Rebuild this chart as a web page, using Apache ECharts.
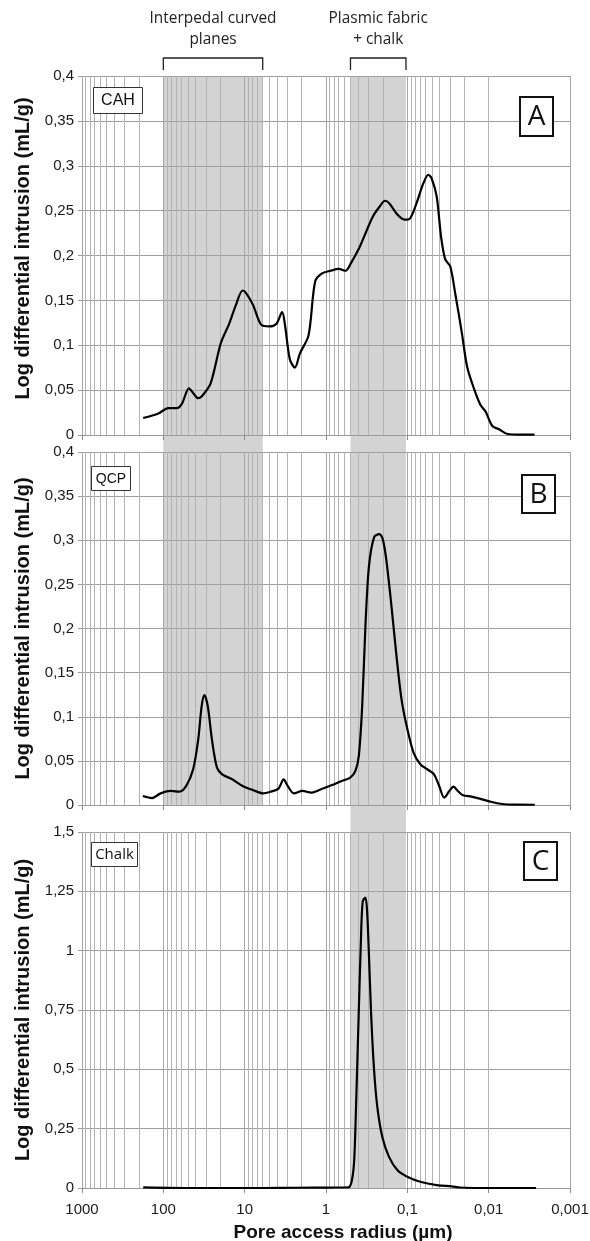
<!DOCTYPE html>
<html><head><meta charset="utf-8">
<script src="https://cdn.jsdelivr.net/npm/echarts/dist/echarts.min.js"></script>
<style>html,body{margin:0;padding:0;background:#fff}#c{width:590px;height:1241px}</style>
</head><body><div id="c"></div><script>
// ---------- DATA ----------
const xTickLabels = ['1000','100','10','1','0,1','0,01','0,001'];
const yTickLabelsAB = ['0','0,05','0,1','0,15','0,2','0,25','0,3','0,35','0,4'];
const yTickLabelsC = ['0','0,25','0,5','0,75','1','1,25','1,5'];

const cahRadius = [177,115,86.7,68,59,48.4,42.4,37.4,33.4,26.2,19.7,15.5,12.8,10.6,9.6,7.9,6.27,4.93,4.07,3.46,3.21,2.78,2.41,2.09,1.64,1.36,1.12,0.88,0.695,0.574,0.497,0.392,0.34,0.267,0.221,0.188,0.166,0.131,0.108,0.0935,0.0773,0.0638,0.0553,0.0503,0.0436,0.0385,0.0343,0.0297,0.0258,0.0213,0.0184,0.0152,0.0126,0.0109,0.0090,0.00743,0.00586,0.00419,0.00273];
const cahValues = [0.019,0.024,0.030,0.030,0.035,0.052,0.046,0.041,0.0435,0.0576,0.102,0.124,0.145,0.161,0.158,0.145,0.123,0.121,0.124,0.137,0.124,0.084,0.075,0.091,0.111,0.171,0.180,0.183,0.185,0.183,0.191,0.208,0.221,0.243,0.254,0.261,0.258,0.245,0.240,0.241,0.258,0.280,0.290,0.286,0.266,0.221,0.196,0.188,0.158,0.113,0.076,0.052,0.0334,0.026,0.010,0.0063,0.0011,0.0005,0.0005];

const qcpRadius = [178.6,137.7,108,80.9,63.5,52.3,43.0,37.2,33.8,31.3,28.4,25.3,21.9,18.9,14.2,10.6,7.92,5.93,4.89,3.84,3.32,2.96,2.48,1.95,1.53,1.15,0.857,0.641,0.503,0.435,0.395,0.359,0.326,0.296,0.256,0.221,0.201,0.182,0.157,0.136,0.118,0.102,0.0839,0.0692,0.0570,0.047,0.0406,0.0352,0.0304,0.0271,0.0239,0.0207,0.0162,0.0121,0.00908,0.00679,0.00461,0.00271];
const qcpValues = [0.0102,0.0079,0.0132,0.0159,0.0151,0.0216,0.0405,0.0746,0.112,0.1245,0.112,0.0746,0.0424,0.0348,0.0291,0.0216,0.0170,0.0132,0.0148,0.0185,0.0291,0.0216,0.0132,0.0159,0.014,0.0178,0.0223,0.0272,0.031,0.0386,0.0556,0.112,0.207,0.271,0.3035,0.307,0.3016,0.279,0.226,0.169,0.12,0.0897,0.0594,0.0462,0.0405,0.0348,0.0216,0.0083,0.0159,0.0208,0.0159,0.011,0.0095,0.0064,0.0034,0.0011,0.0004,0.0003];

const chalkRadius = [176.7,41.2,6.08,2.33,0.895,0.529,0.481,0.450,0.425,0.397,0.372,0.354,0.328,0.313,0.298,0.279,0.258,0.234,0.203,0.168,0.132,0.099,0.0676,0.0419,0.0285,0.0224,0.0120,0.00261];
const chalkValues = [0.003,0,0,0.001,0.002,0.003,0.032,0.117,0.370,0.722,1.045,1.207,1.224,1.172,1.003,0.736,0.511,0.342,0.215,0.131,0.0746,0.0464,0.0253,0.0113,0.007,0.002,0,0];

const bandInterpedal = [100, 6];
const bandPlasmic = [0.5, 0.104];
const panelNames = ['CAH','QCP','Chalk'];
const panelLetters = ['A','B','C'];
const headerInterpedal = ['Interpedal curved','planes'];
const headerPlasmic = ['Plasmic fabric','+ chalk'];
const yTitle = 'Log differential intrusion (mL/g)';
const xTitle = 'Pore access radius (\u00b5m)';

// minor log gridlines (2..9 within each decade)
const minorGrid = [];
for (let k = -3; k <= 2; k++) for (let m = 2; m <= 9; m++) minorGrid.push(+(m * Math.pow(10, k)).toPrecision(3));

// ---------- LAYOUT ----------
const L = 82, W = 488;
const panels = [{top:76,height:359},{top:452,height:353},{top:832,height:356}];
const FONT = 'Liberation Sans, Arial, sans-serif';

const grids = panels.map(p => ({left:L, width:W, top:p.top, height:p.height, outerBoundsMode:'none', containLabel:false}));
grids.push({left:L, width:W, top:76, height:805-76, outerBoundsMode:'none', containLabel:false});
grids.push({left:L, width:W, top:76, height:1188-76, outerBoundsMode:'none', containLabel:false});

function xAx(gi, visible, labels) {
  return {
    type:'log', logBase:10, min:0.001, max:1000, inverse:true, gridIndex:gi, splitNumber:6, show:visible,
    axisLine:{show:true, lineStyle:{color:'#9a9a9a', width:1}},
    axisTick:{show:true, length:5, inside:false, lineStyle:{color:'#8a8a8a'}},
    axisLabel:{show:labels, fontFamily:FONT, fontSize:15, color:'#1a1a1a', margin:14, showMinLabel:true, showMaxLabel:true,
      formatter: v => xTickLabels[Math.round(3 - Math.log10(v))]},
    splitLine:{show:true, lineStyle:{color:'#a6a6a6', width:1}},
    name: labels ? xTitle : '', nameLocation:'middle', nameGap:35,
    nameTextStyle:{fontFamily:FONT, fontWeight:'bold', fontSize:19, color:'#111', padding:[0,0,0,34]}
  };
}
function yAx(gi, max, interval, labels, visible, shift) {
  return {
    type:'value', gridIndex:gi, min:0, max:max, interval:interval, show:visible,
    axisLine:{show:false}, axisTick:{show:true, length:4, lineStyle:{color:'#9a9a9a'}},
    axisLabel:{fontFamily:FONT, fontSize:15, color:'#1a1a1a', margin:8, showMinLabel:true, showMaxLabel:true,
      formatter: v => labels ? labels[Math.round(v / interval)] : ''},
    splitLine:{show:true, lineStyle:{color:'#9e9e9e', width:1}},
    name: visible ? yTitle : '', nameLocation:'middle', nameGap:48,
    nameTextStyle:{fontFamily:FONT, fontWeight:'bold', fontSize:20, color:'#111', padding:[0,0,0,shift||0]}
  };
}

const minorMarkLine = {
  silent:true, z:1, animation:false, symbol:['none','none'], label:{show:false},
  lineStyle:{color:'#b3b3b3', width:1, type:'solid'}, emphasis:{disabled:true},
  data: minorGrid.map(v => ({xAxis:v}))
};

function curve(gi, xs, ys) {
  return {
    type:'line', xAxisIndex:gi, yAxisIndex:gi, smooth:0.3, showSymbol:false, silent:true, animation:false, z:3,
    lineStyle:{color:'#000', width:2.2}, data: xs.map((x,i) => [x, ys[i]]),
    markLine: minorMarkLine
  };
}
function band(gi, range) {
  return {
    type:'line', xAxisIndex:gi, yAxisIndex:gi, data:[], silent:true, animation:false,
    markArea:{silent:true, z:-1, animation:false, itemStyle:{color:'#d3d3d3', borderWidth:0}, label:{show:false},
      data:[[{xAxis:range[0], yAxis:0},{xAxis:range[1], yAxis:1}]]}
  };
}

const option = {
  backgroundColor:'#fff',
  animation:false,
  grid: grids,
  xAxis: [xAx(0,true,false), xAx(1,true,false), xAx(2,true,true), xAx(3,false,false), xAx(4,false,false)],
  yAxis: [yAx(0,0.4,0.05,yTickLabelsAB,true,14), yAx(1,0.4,0.05,yTickLabelsAB,true,0), yAx(2,1.5,0.25,yTickLabelsC,true,0),
          yAx(3,1,1,null,false), yAx(4,1,1,null,false)],
  series: [
    band(3, bandInterpedal), band(4, bandPlasmic),
    curve(0, cahRadius, cahValues), curve(1, qcpRadius, qcpValues), curve(2, chalkRadius, chalkValues)
  ]
};

const chart = echarts.init(document.getElementById('c'), null, {renderer:'canvas'});
chart.setOption(option);

// ---------- ANNOTATIONS ----------
const px = v => chart.convertToPixel({xAxisIndex:0}, v);
const graphics = [];
function header(range, lines) {
  const x1 = px(range[0]), x2 = px(range[1]), cx = (x1 + x2) / 2;
  graphics.push({type:'polyline', silent:true, shape:{points:[[x1,70],[x1,58],[x2,58],[x2,70]]}, style:{stroke:'#222', lineWidth:1.3, fill:null}});
  lines.forEach((t,i) => graphics.push({type:'text', silent:true, x:cx, y:19 + i*21,
    style:{text:t, font:'15.4px "Open Sans", sans-serif', fill:'#222', align:'center', verticalAlign:'middle'}}));
}
header(bandInterpedal, headerInterpedal);
header(bandPlasmic, headerPlasmic);

const nameBoxes = [{x:93,y:87,w:49,h:26,fs:16,font:FONT},{x:91,y:466,w:39,h:24,fs:14,font:FONT},{x:91,y:842,w:46,h:24,fs:15,font:'"Open Sans", sans-serif'}];
const letterBoxes = [{x:520,y:97,w:33,h:39},{x:522,y:475,w:33,h:38},{x:524,y:842,w:33,h:38}];
panelNames.forEach((n,i) => {
  const b = nameBoxes[i];
  graphics.push({type:'rect', silent:true, shape:{x:b.x+0.5,y:b.y+0.5,width:b.w,height:b.h}, style:{fill:'#fff', stroke:'#333', lineWidth:1}, z:10});
  graphics.push({type:'text', silent:true, x:b.x+b.w/2+0.5, y:b.y+b.h/2+1, z:11,
    style:{text:n, font:b.fs+'px '+b.font, fill:'#111', align:'center', verticalAlign:'middle'}});
  const c = letterBoxes[i];
  graphics.push({type:'rect', silent:true, shape:{x:c.x,y:c.y,width:c.w,height:c.h}, style:{fill:'#fff', stroke:'#111', lineWidth:2}, z:10});
  graphics.push({type:'text', silent:true, x:c.x+c.w/2, y:c.y+c.h/2+1, z:11,
    style:{text:panelLetters[i], font:'28px "Open Sans", sans-serif', fill:'#111', align:'center', verticalAlign:'middle'}});
});
chart.setOption({graphic: graphics});
</script></body></html>
